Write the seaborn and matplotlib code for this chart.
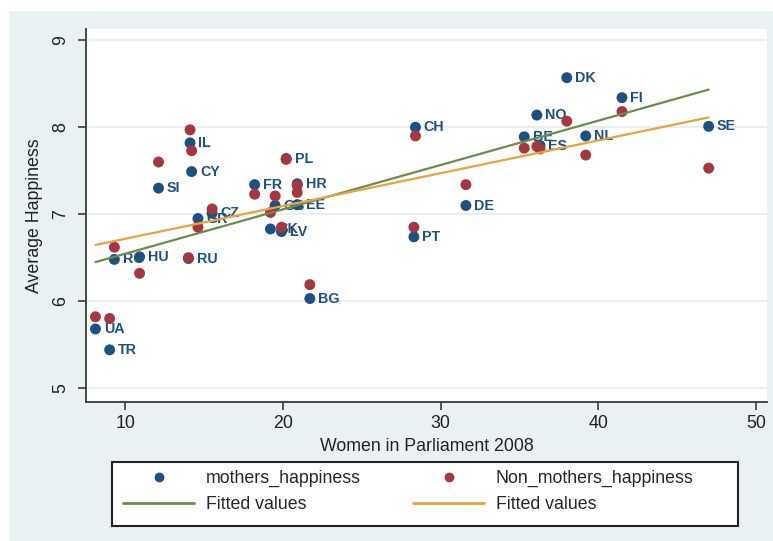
#-------------------------------------------------------------------------------
# plot.py
# Happiness of mothers / non-mothers vs. share of women in parliament (2008)
#-------------------------------------------------------------------------------

import seaborn as sns
import pandas as pd
import matplotlib.pyplot as plt
from matplotlib.patches import Rectangle
from matplotlib.lines import Line2D

# 1. Data
countries = ['DK', 'FI', 'NO', 'SE', 'CH', 'BE', 'NL', 'ES', 'IL', 'CY',
             'SI', 'FR', 'PL', 'HR', 'EE', 'GB', 'SK', 'LV', 'CZ', 'GR',
             'RU', 'HU', 'RO', 'UA', 'TR', 'BG', 'PT', 'DE']
women_2008 = [38.0, 41.5, 36.1, 47.0, 28.4, 35.3, 39.2, 36.3, 14.1, 14.2,
              12.1, 18.2, 20.2, 20.9, 20.9, 19.5, 19.2, 19.9, 15.5, 14.6,
              14.0, 10.9, 9.3, 8.1, 9.0, 21.7, 28.3, 31.6]
mothers_happiness = [8.57, 8.34, 8.14, 8.01, 8.00, 7.89, 7.90, 7.79, 7.82, 7.49,
                     7.30, 7.34, 7.64, 7.35, 7.11, 7.10, 6.83, 6.80, 7.01, 6.95,
                     6.49, 6.51, 6.48, 5.68, 5.44, 6.03, 6.74, 7.10]
non_mothers_happiness = [8.07, 8.18, 7.78, 7.53, 7.90, 7.76, 7.68, 7.75, 7.97, 7.73,
                         7.60, 7.23, 7.63, 7.33, 7.25, 7.21, 7.02, 6.85, 7.06, 6.85,
                         6.50, 6.32, 6.62, 5.82, 5.80, 6.19, 6.85, 7.34]
legend_labels = ['mothers_happiness', 'Fitted values', 'Non_mothers_happiness', 'Fitted values']

df = pd.DataFrame({'country': countries,
                   'women': women_2008,
                   'mothers': mothers_happiness,
                   'non_mothers': non_mothers_happiness})

# 2. Style
blue = '#1d5083'
red = '#a6363f'
green = '#6b8c4a'
orange = '#eba33a'
bg = '#eaf1f3'

sns.set_style('ticks')
plt.rcParams['font.family'] = ['Liberation Sans', 'DejaVu Sans']

fig = plt.figure(figsize=(7.73, 5.41), dpi=100, facecolor=bg)
# thin white border along top and left edge of the scan
fig.patches.append(Rectangle((0, 1 - 10 / 541), 1, 10 / 541, transform=fig.transFigure,
                             color='white', zorder=0))
fig.patches.append(Rectangle((0, 0), 8 / 773, 1, transform=fig.transFigure,
                             color='white', zorder=0))

ax = fig.add_axes([86 / 773, 1 - 402 / 541, 681 / 773, 373 / 541])
ax.set_facecolor('white')

# 3. Points, labels and fitted lines
sns.scatterplot(data=df, x='women', y='mothers', color=blue, s=62, edgecolor='none',
                ax=ax, zorder=3, legend=False)
for c, x, y in zip(countries, women_2008, mothers_happiness):
    ax.annotate(c, (x, y), xytext=(6, 0), textcoords='offset points', ha='left',
                va='center', fontsize=10.3, fontweight='bold', color=blue, zorder=4)
sns.scatterplot(data=df, x='women', y='non_mothers', color=red, s=62, edgecolor='none',
                ax=ax, zorder=5, legend=False)
sns.regplot(data=df, x='women', y='mothers', scatter=False, ci=None, truncate=True,
            color=green, line_kws={'lw': 1.6, 'zorder': 6}, ax=ax)
sns.regplot(data=df, x='women', y='non_mothers', scatter=False, ci=None, truncate=True,
            color=orange, line_kws={'lw': 1.6, 'zorder': 6}, ax=ax)

# 4. Axes
ax.set_xlim(7.5, 50.7)
ax.set_ylim(4.84, 9.13)
ax.set_xticks([10, 20, 30, 40, 50])
ax.set_yticks([5, 6, 7, 8, 9])
ax.set_axisbelow(True)
ax.yaxis.grid(True, color='#e8eef1', lw=1.3)
ax.xaxis.grid(False)
sns.despine(ax=ax)
for side in ['left', 'bottom']:
    ax.spines[side].set_color('#3a3a3a')
    ax.spines[side].set_linewidth(1.3)
ax.tick_params(axis='both', direction='out', length=6, width=1.2, color='#3a3a3a',
               labelsize=12.8, labelcolor='#222222')
ax.tick_params(axis='x', pad=3)
ax.tick_params(axis='y', pad=6)
plt.setp(ax.get_yticklabels(), rotation=90, va='center')
ax.set_xlabel('Women in Parliament 2008', fontsize=12.8, color='#222222', labelpad=5)
ax.set_ylabel('Average Happiness', fontsize=12.8, color='#222222', labelpad=7)

# 5. Legend below the plot, boxed by a fixed frame
fig.patches.append(Rectangle((112 / 773, 1 - 526 / 541), 626 / 773, 64 / 541,
                             transform=fig.transFigure, facecolor='white',
                             edgecolor='#222222', lw=1.5, zorder=2))
handles = [Line2D([], [], ls='none', marker='o', ms=6, color=blue),
           Line2D([], [], color=green, lw=2),
           Line2D([], [], ls='none', marker='o', ms=6, color=red),
           Line2D([], [], color=orange, lw=2)]
leg = fig.legend(handles, legend_labels, ncol=2, loc='upper left',
                 bbox_to_anchor=(123 / 773, 1 - 470 / 541),
                 bbox_transform=fig.transFigure, borderaxespad=0, borderpad=0,
                 frameon=False, fontsize=12.8, handlelength=4.0, handletextpad=0.65,
                 columnspacing=2.95, labelspacing=0.5)
leg.set_zorder(3)

plt.savefig('out.png', dpi=100, facecolor=fig.get_facecolor())
